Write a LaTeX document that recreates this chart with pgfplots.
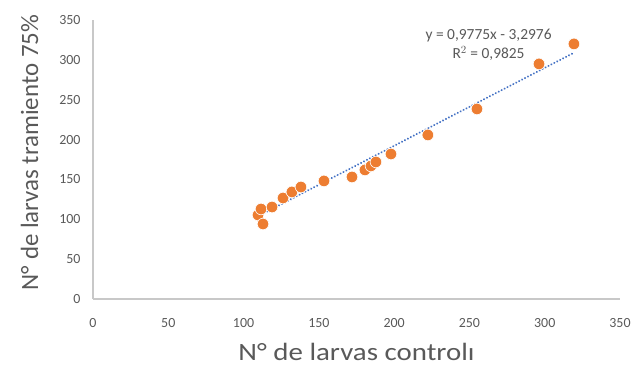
\documentclass[border=0pt]{standalone}
\usepackage{fontspec}
\setmainfont{Carlito}
\usepackage{pgfplots}
\pgfplotsset{compat=1.18}

\definecolor{dotorange}{HTML}{ED7D31}
\definecolor{trendblue}{HTML}{4472C4}
\definecolor{labelgray}{HTML}{595959}
\definecolor{axisgray}{HTML}{C8C8C8}

\begin{document}
\begin{tikzpicture}
\path[use as bounding box] (-93bp,-74bp) rectangle (542bp,299bp);
\begin{axis}[
  at={(0,0)}, anchor=south west,
  scale only axis,
  width=527bp, height=279bp,
  xmin=0, xmax=350, ymin=0, ymax=350,
  xtick={0,50,...,350}, ytick={0,50,...,350},
  axis x line*=bottom, axis y line*=left,
  axis line style={axisgray, line width=1.2bp, -},
  major tick length=0pt,
  /pgf/number format/assume math mode=true,
  ticklabel style={font=\fontsize{14}{16}\selectfont, text=labelgray},
  xticklabel style={yshift=-16bp},
  yticklabel style={xshift=-9bp},
  xlabel={N° de larvas controlı},
  ylabel={N° de larvas tramiento 75\%},
  label style={font=\fontsize{25}{28}\selectfont, text=labelgray},
  xlabel style={xscale=1.16, yshift=-9bp},
  ylabel style={yshift=14bp, xshift=7bp},
  clip=false,
]
% linear trend line y = 0.9775x - 3.2976, drawn between its end points
\addplot[trendblue, line width=2.2bp, line cap=round,
  dash pattern=on 0.01pt off 3.3pt] coordinates {
  (108.0, 102.27) (319.4, 308.92)
};
% observed counts
\addplot[only marks, mark=*, mark size=5.8bp,
  mark options={fill=dotorange, draw=white, line width=0.6bp}]
  coordinates {
  (109.6,105.4) (111.6,112.9) (112.9,94.1) (118.9,115.4)
  (126.2,126.7) (132.1,134.3) (138.1,140.5) (153.4,148.1)
  (172.0,153.1) (180.6,161.9) (184.6,166.9) (187.9,171.9)
  (197.9,181.9) (222.4,205.8) (255.0,238.4) (296.2,294.9)
  (319.4,320.0)
};
\node[align=center, text=labelgray, font=\fontsize{15.5}{19}\selectfont,
  inner sep=0pt] at (axis cs:262.7,319.0)
  {y = 0,9775x - 3,2976\\R$^{2}$ = 0,9825};
\end{axis}
\end{tikzpicture}
\end{document}
